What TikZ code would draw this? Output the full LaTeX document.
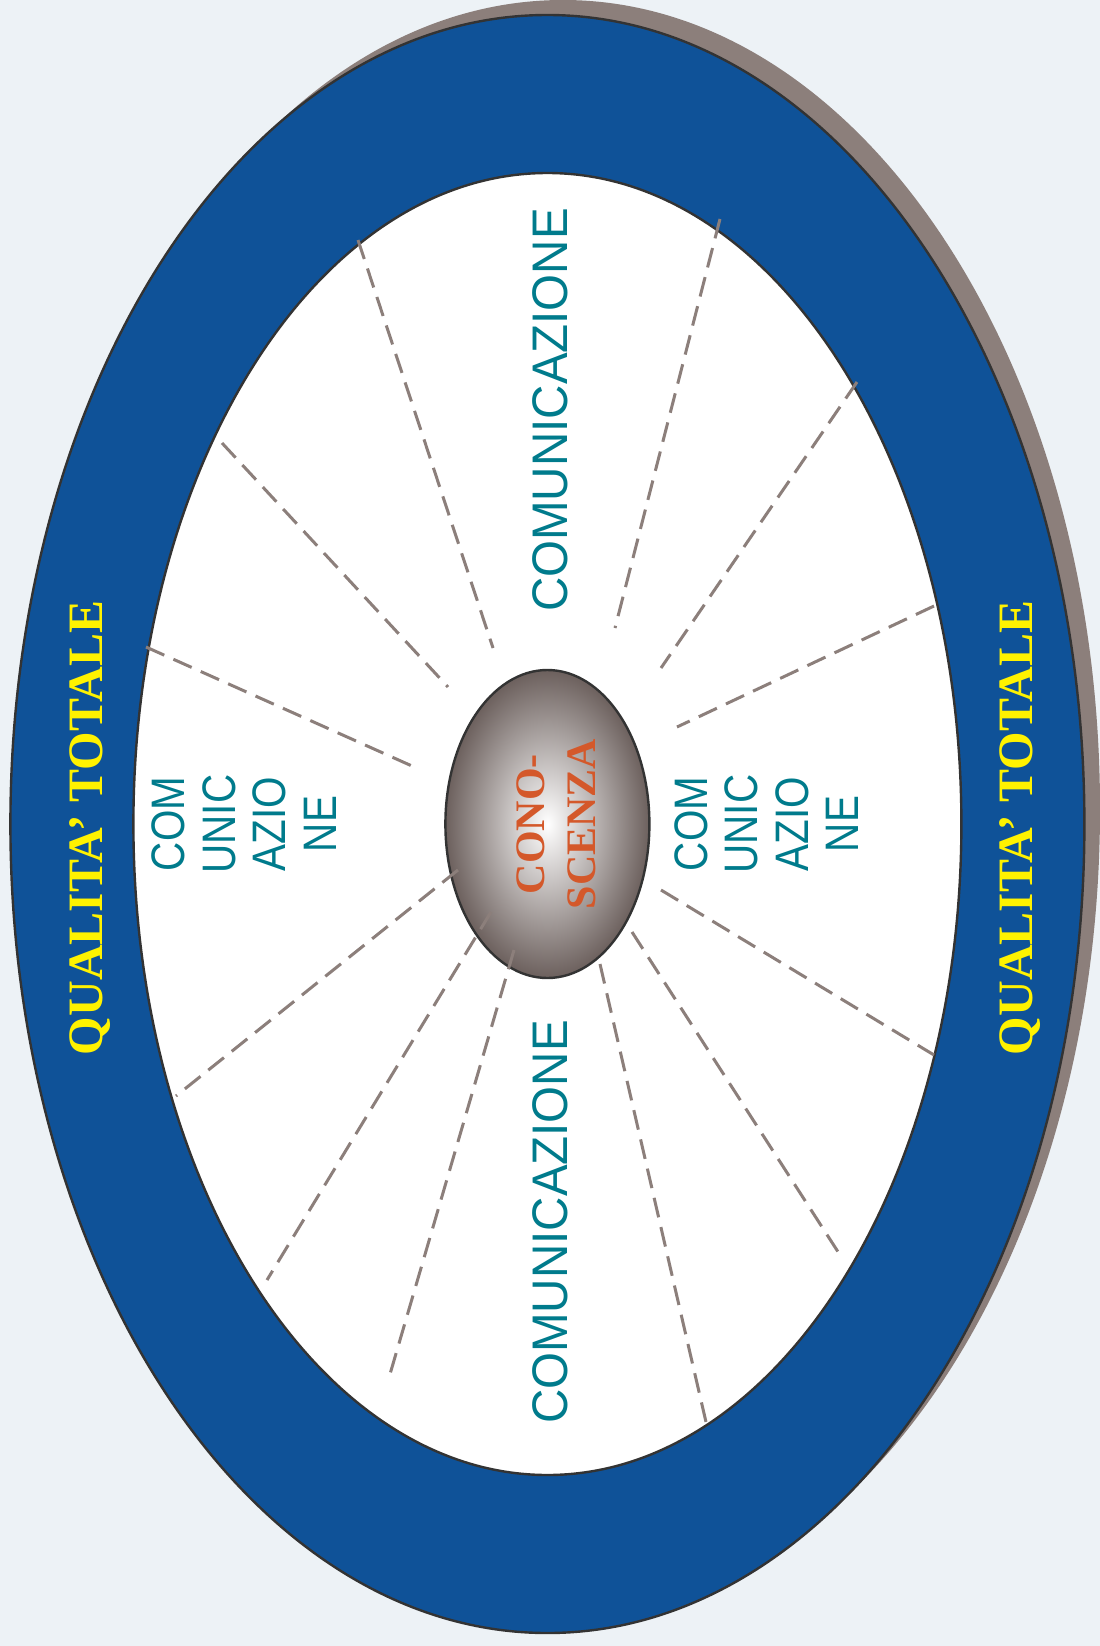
\documentclass[tikz,border=0pt]{standalone}
\usepackage{fontspec}
\newfontfamily\commFamily[FakeStretch=0.95]{Liberation Sans}
\newfontfamily\sideFamily[FakeStretch=0.86]{Liberation Sans}
\newfontfamily\titleFamily{Liberation Serif}
\definecolor{bgPage}{HTML}{EDF2F6}
\definecolor{ringBlue}{HTML}{0F5298}
\definecolor{shadowGray}{HTML}{8C7F7B}
\definecolor{outlineDark}{HTML}{333333}
\definecolor{coreGray}{HTML}{6C605D}
\definecolor{spokeGray}{HTML}{8C7F7B}
\definecolor{textTeal}{HTML}{007B8C}
\definecolor{textYellow}{HTML}{FFF200}
\definecolor{textOrange}{HTML}{D4582A}
\usepackage{tikz}

\tikzset{
  spoke/.style={draw=spokeGray, line width=3pt, dash pattern=on 20pt off 10pt},
  commLabel/.style={text=textTeal, rotate=90, inner sep=0pt,
    font=\commFamily\fontsize{50}{60}\selectfont},
  sideLabel/.style={text=textTeal, rotate=90, inner sep=0pt, align=center,
    font=\sideFamily\fontsize{47}{50.5}\selectfont},
  qualLabel/.style={text=textYellow, rotate=90, inner sep=0pt,
    font=\titleFamily\bfseries\fontsize{49.5}{58}\selectfont},
  coreLabel/.style={text=textOrange, rotate=90, inner sep=0pt, align=center,
    font=\titleFamily\bfseries\fontsize{42}{51}\selectfont}
}

\begin{document}
\begin{tikzpicture}[x=1pt, y=-1pt]
  \useasboundingbox[fill=bgPage] (0,0) rectangle (1100,1646);

  \fill[shadowGray] (563,809) ellipse [x radius=537, y radius=809];
  \draw[fill=ringBlue, draw=outlineDark, line width=2.4pt] (547.4,824) ellipse [x radius=537, y radius=809];
  \draw[fill=white, draw=outlineDark, line width=2.4pt] (547.4,824) ellipse [x radius=414, y radius=651];
  \shadedraw[inner color=white, outer color=coreGray, draw=outlineDark, line width=2.4pt]
    (547.4,824) ellipse [x radius=102, y radius=154];

  \foreach \sx/\sy/\ex/\ey [count=\i] in {
      358/240/493/648, 720/219/615/628, 857/382/661/668, 934/606/677/727,
      222/443/448/687, 146/647/412/766, 458/870/176/1096, 491/912/267/1280,
      514/950/388/1381, 600/964/706/1422, 632/932/842/1258, 661/890/934/1055} {
    \coordinate (spokeStart\i) at (\sx,\sy);
    \coordinate (spokeEnd\i) at (\ex,\ey);
    \draw[spoke] (spokeStart\i) -- (spokeEnd\i);
  }

  \node[commLabel, anchor=base] (commTop) at (567,410) {COMUNICAZIONE};
  \node[commLabel, anchor=base] (commBottom) at (567,1222) {COMUNICAZIONE};
  \node[sideLabel] (commLeft) at (244,824) {COM\\UNIC\\AZIO\\NE};
  \node[sideLabel] (commRight) at (766.5,824) {COM\\UNIC\\AZIO\\NE};
  \node[qualLabel, anchor=base] (qualLeft) at (102,828) {QUALITA’ TOTALE};
  \node[qualLabel, anchor=base] (qualRight) at (1032,828) {QUALITA’ TOTALE};
  \node[coreLabel] (coreText) at (556,824) {CONO-\\SCENZA};
\end{tikzpicture}
\end{document}
